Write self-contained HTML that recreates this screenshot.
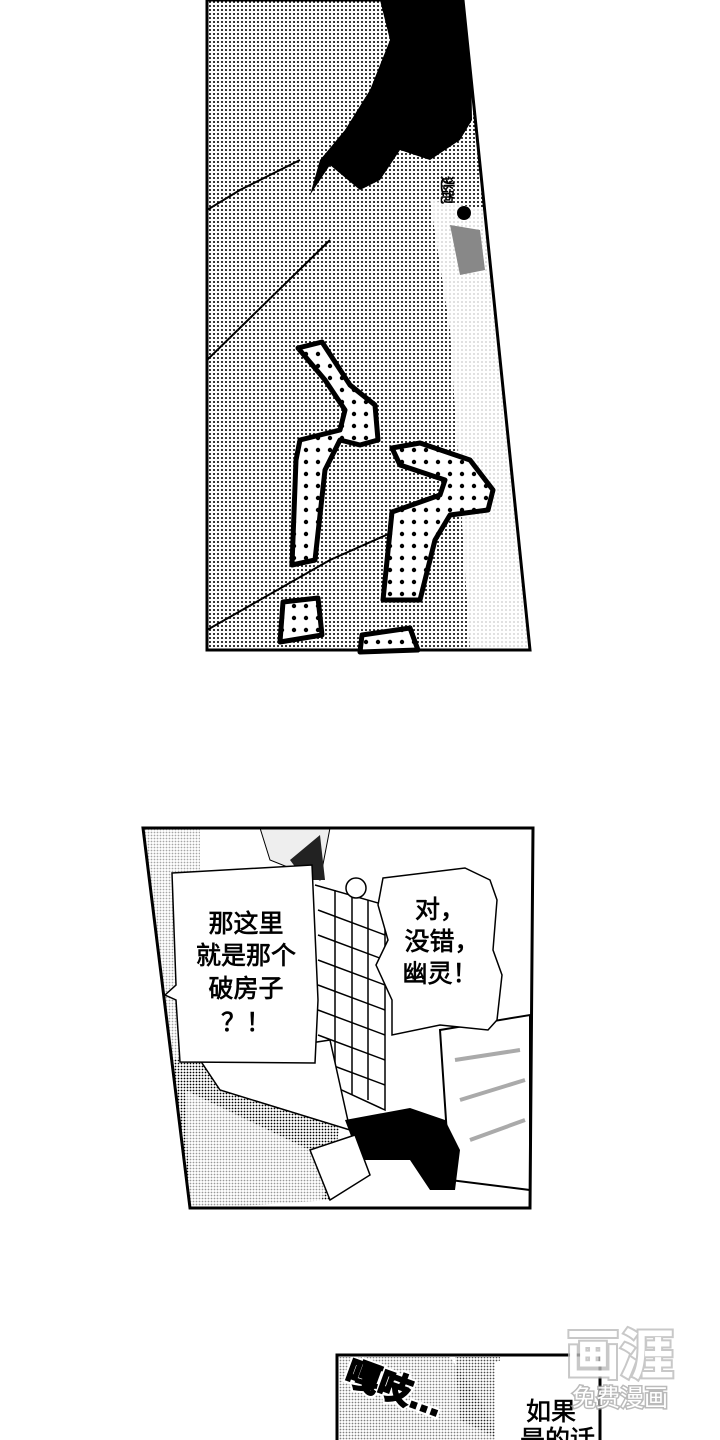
<!DOCTYPE html>
<html><head><meta charset="utf-8"><style>
body{margin:0;background:#fff;width:720px;height:1440px;overflow:hidden}
svg{display:block}
text{font-family:"Liberation Sans","Noto Sans CJK SC",sans-serif}
</style></head><body>
<svg width="720" height="1440" viewBox="0 0 720 1440" xmlns="http://www.w3.org/2000/svg">
<defs>
<pattern id="dots" width="4" height="4" patternUnits="userSpaceOnUse">
<rect width="4" height="4" fill="#fff"/><circle cx="2" cy="2" r="1.05" fill="#000"/>
</pattern>
<pattern id="bigdots" width="12" height="12" patternUnits="userSpaceOnUse">
<rect width="12" height="12" fill="#fff"/><circle cx="6" cy="6" r="2.2" fill="#000"/>
</pattern>
<pattern id="fine" width="3" height="3" patternUnits="userSpaceOnUse">
<rect width="3" height="3" fill="#fff"/><circle cx="1.5" cy="1.5" r="0.9" fill="#000"/>
</pattern>
<clipPath id="p1"><polygon points="207,0 463,0 530,650 207,650"/></clipPath>
<clipPath id="p2"><polygon points="143,828 533,828 530,1208 190,1208"/></clipPath>
</defs>

<!-- Panel 1 -->
<g clip-path="url(#p1)">
<rect x="200" y="0" width="340" height="660" fill="url(#dots)"/>
<polygon points="430,200 490,210 510,460 530,650 470,650 450,330" fill="#fff" opacity="0.85"/>
<path d="M380,0 L470,0 L472,120 L460,140 L430,160 L400,150 L380,180 L360,190 L330,165 L310,195 L320,160 L345,130 L370,90 L390,40 Z" fill="#000"/>
<path d="M207,210 L240,190 L300,160" stroke="#000" stroke-width="2" fill="none"/>
<path d="M207,360 L330,240" stroke="#000" stroke-width="2" fill="none"/>
<path d="M207,630 L330,560 L420,520" stroke="#000" stroke-width="2" fill="none"/>
<circle cx="464" cy="213" r="7" fill="#000"/>
<path d="M450,225 L480,230 L485,270 L460,275 Z" fill="#888"/>
<text x="0" y="0" transform="translate(442,176) rotate(90)" font-size="14" stroke="#000" stroke-width="0.6">逃跑</text>
</g>
<polygon points="207,0 463,0 530,650 207,650" fill="none" stroke="#000" stroke-width="3"/>

<path d="M298,348 L322,342 L350,385 L375,405 L378,440 L360,445 L340,440 L325,470 L315,560 L292,565 L296,460 L300,440 L340,430 L345,410 L325,380 Z" fill="url(#bigdots)" stroke="#000" stroke-width="5" stroke-linejoin="round"/>
<path d="M392,448 L420,443 L470,460 L493,490 L488,510 L450,515 L435,540 L420,600 L383,600 L392,512 L440,495 L445,480 L400,465 Z" fill="url(#bigdots)" stroke="#000" stroke-width="5" stroke-linejoin="round"/>
<path d="M283,602 L318,598 L322,635 L280,642 Z" fill="url(#bigdots)" stroke="#000" stroke-width="5" stroke-linejoin="round"/>
<path d="M362,635 L410,628 L418,650 L360,652 Z" fill="url(#bigdots)" stroke="#000" stroke-width="5" stroke-linejoin="round"/>

<!-- Panel 2 -->
<g clip-path="url(#p2)">
<rect x="140" y="825" width="400" height="390" fill="#fff"/>
<rect x="140" y="825" width="60" height="260" fill="url(#fine)" opacity="0.35"/>
<path d="M260,828 L330,828 L320,880 L270,860 Z" fill="#eee" stroke="#000"/>
<path d="M290,860 L320,835 L325,880 L305,880 Z" fill="#222"/>
<g stroke="#000" stroke-width="1.5" fill="none">
<path d="M315,885 L385,905 L385,1110 L320,1080"/>
<path d="M318,910 L385,935 M318,935 L385,960 M318,960 L385,985 M318,985 L385,1010 M318,1010 L385,1035 M318,1035 L385,1060 M318,1060 L385,1085"/>
<path d="M335,890 L335,1085 M352,895 L352,1095 M368,900 L368,1100"/>
</g>
<circle cx="356" cy="888" r="10" fill="#fff" stroke="#000" stroke-width="1.5"/>
<path d="M440,1030 L530,1015 L530,1190 L450,1180 Z" fill="#fff" stroke="#000" stroke-width="2"/>
<path d="M455,1060 L520,1050 M460,1100 L525,1080 M470,1140 L525,1120" stroke="#aaa" stroke-width="4"/>
<polygon points="170,1060 210,1050 340,1120 330,1200 180,1210" fill="url(#fine)"/>
<polygon points="185,1090 330,1160 320,1210 190,1210" fill="#fff" opacity="0.6"/>
<path d="M200,1060 L330,1040 L350,1130 L220,1090 Z" fill="#fff" stroke="#000" stroke-width="1.5"/>
<path d="M345,1120 L410,1108 L445,1120 L460,1150 L455,1190 L430,1190 L410,1160 L360,1160 Z" fill="#000"/>
<path d="M310,1150 L355,1135 L370,1175 L330,1200 Z" fill="#fff" stroke="#000" stroke-width="1.5"/>
<path d="M172,873 L312,865 L318,1000 L315,1063 L180,1062 L176,1000 L165,995 L176,985 Z" fill="#fff" stroke="#000" stroke-width="1.5"/>
<path d="M383,878 L465,868 L490,880 L497,900 L493,950 L502,975 L497,1020 L488,1030 L440,1025 L392,1035 L392,1000 L376,965 L388,940 L378,905 Z" fill="#fff" stroke="#000" stroke-width="1.5"/>
</g>
<polygon points="143,828 533,828 530,1208 190,1208" fill="none" stroke="#000" stroke-width="3"/>
<g font-size="25" text-anchor="middle" fill="#000" stroke="#000" stroke-width="0.7">
<text x="246" y="932">那这里</text>
<text x="246" y="964">就是那个</text>
<text x="246" y="997">破房子</text>
<text x="246" y="1031">？！</text>
<text x="440" y="918">对，</text>
<text x="442" y="950">没错，</text>
<text x="440" y="982">幽灵！</text>
</g>

<!-- Panel 3 -->
<rect x="337" y="1355" width="263" height="100" fill="#fff" stroke="#000" stroke-width="3"/>
<path d="M339,1357 L450,1357 L480,1400 L500,1440 L339,1440 Z" fill="url(#fine)" opacity="0.5"/>
<path d="M455,1357 L500,1357 L500,1440 L460,1420 Z" fill="url(#fine)" opacity="0.7"/>
<path d="M495,1362 L510,1358 L598,1358 L598,1440 L495,1440 Z" fill="#fff"/>
<g font-size="25" fill="#000" stroke="#000" stroke-width="0.6">
<text x="526" y="1420">如果</text>
<text x="520" y="1448">是的话</text>
</g>
<g transform="translate(343,1382) rotate(20)" font-size="34" font-weight="bold">
<text stroke="#fff" stroke-width="6" fill="#fff">嘎吱…</text>
<text stroke="#000" stroke-width="2" fill="#000">嘎吱…</text>
</g>
<rect x="337" y="1355" width="263" height="100" fill="none" stroke="#000" stroke-width="3"/>

<!-- watermark -->
<g>
<text x="566" y="1374" font-size="54" font-weight="bold" fill="#fff" stroke="#bbb" stroke-width="4" opacity="0.8">画涯</text>
<text x="566" y="1374" font-size="54" font-weight="bold" fill="#fff">画涯</text>
<text x="572" y="1406" font-size="24" fill="#fff" stroke="#aaa" stroke-width="3" opacity="0.8">免费漫画</text>
<text x="572" y="1406" font-size="24" fill="#fff">免费漫画</text>
</g>
</svg>
</body></html>
